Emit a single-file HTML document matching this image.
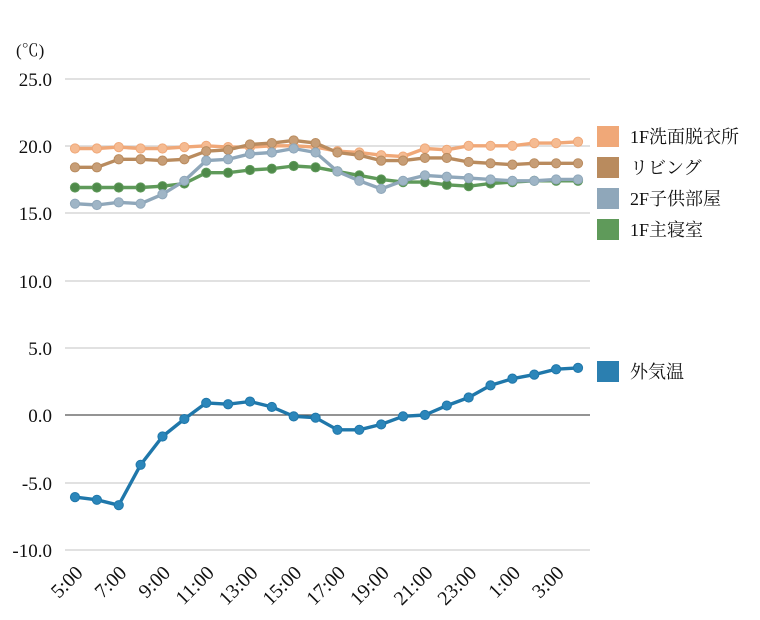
<!DOCTYPE html>
<html><head><meta charset="utf-8"><style>
html,body{margin:0;padding:0;background:#fff;}
svg{display:block;font-family:"Liberation Serif","Noto Serif CJK SC",serif;}
</style></head><body>
<svg id="c" width="760" height="620" viewBox="0 0 760 620" xmlns="http://www.w3.org/2000/svg">
<g stroke="#cfcfcf" stroke-width="1.3">
<line x1="65" x2="590" y1="79" y2="79"/><line x1="65" x2="590" y1="146" y2="146"/>
<line x1="65" x2="590" y1="213" y2="213"/><line x1="65" x2="590" y1="281" y2="281"/>
<line x1="65" x2="590" y1="348" y2="348"/><line x1="65" x2="590" y1="483" y2="483"/>
<line x1="65" x2="590" y1="550" y2="550"/>
</g>
<line x1="65" x2="590" y1="415" y2="415" stroke="#555" stroke-width="1.3"/>
<g font-size="19" fill="#111" text-anchor="end">
<text x="52" y="86">25.0</text><text x="52" y="153">20.0</text><text x="52" y="220">15.0</text>
<text x="52" y="288">10.0</text><text x="52" y="355">5.0</text><text x="52" y="422">0.0</text>
<text x="52" y="490">-5.0</text><text x="52" y="557">-10.0</text>
</g>
<text x="16" y="56" font-size="17" fill="#111">(℃)</text>
<g id="xl" font-size="20" fill="#111" text-anchor="end"></g>
<g id="series"></g>
<g font-size="18" fill="#111">
<rect x="597" y="126" width="22" height="21" fill="#f0a878"/><text x="630" y="143">1F洗面脱衣所</text>
<rect x="597" y="157" width="22" height="21" fill="#b98b5e"/><text x="630" y="174">リビング</text>
<rect x="597" y="188" width="22" height="21" fill="#8fa7ba"/><text x="630" y="205">2F子供部屋</text>
<rect x="597" y="219" width="22" height="21" fill="#5f9a5a"/><text x="630" y="236">1F主寝室</text>
<rect x="597" y="361" width="22" height="21" fill="#2b7fb0"/><text x="630" y="378">外気温</text>
</g>
</svg>
<script>
var ns="http://www.w3.org/2000/svg";
function X(i){return 75+i*21.87;}
function Y(v){return 415-v*13.46;}
var S=[
["#f0a878","#f5bb92",[19.8,19.8,19.9,19.8,19.8,19.9,20.0,19.9,19.9,20.0,20.0,19.9,19.6,19.5,19.3,19.2,19.8,19.7,20.0,20.0,20.0,20.2,20.2,20.3]],
["#b98b5e","#c79e77",[18.4,18.4,19.0,19.0,18.9,19.0,19.6,19.7,20.1,20.2,20.4,20.2,19.5,19.3,18.9,18.9,19.1,19.1,18.8,18.7,18.6,18.7,18.7,18.7]],
["#5f9a5a","#4f8a4a",[16.9,16.9,16.9,16.9,17.0,17.2,18.0,18.0,18.2,18.3,18.5,18.4,18.1,17.8,17.5,17.3,17.3,17.1,17.0,17.2,17.3,17.4,17.4,17.4]],
["#8fa7ba","#9fb5c6",[15.7,15.6,15.8,15.7,16.4,17.4,18.9,19.0,19.4,19.5,19.8,19.5,18.1,17.4,16.8,17.4,17.8,17.7,17.6,17.5,17.4,17.4,17.5,17.5]],
["#1f77aa","#2b86ba",[-6.1,-6.3,-6.7,-3.7,-1.6,-0.3,0.9,0.8,1.0,0.6,-0.1,-0.2,-1.1,-1.1,-0.7,-0.1,0.0,0.7,1.3,2.2,2.7,3.0,3.4,3.5]]
];
var g=document.getElementById("series");
S.forEach(function(s){
 var pts=s[2].map(function(v,i){return X(i).toFixed(1)+","+Y(v).toFixed(1);}).join(" ");
 var p=document.createElementNS(ns,"polyline");
 p.setAttribute("points",pts);p.setAttribute("fill","none");p.setAttribute("stroke",s[0]);
 p.setAttribute("stroke-width","3.4");p.setAttribute("stroke-linejoin","round");g.appendChild(p);
 s[2].forEach(function(v,i){var c=document.createElementNS(ns,"circle");
  c.setAttribute("cx",X(i));c.setAttribute("cy",Y(v));c.setAttribute("r","4.6");
  c.setAttribute("fill",s[1]);c.setAttribute("stroke",s[0]);c.setAttribute("stroke-width","1");g.appendChild(c);});
});
var lab=["5:00","7:00","9:00","11:00","13:00","15:00","17:00","19:00","21:00","23:00","1:00","3:00"];
var xl=document.getElementById("xl");
lab.forEach(function(t,k){var x=X(2*k)+9,y=574;
 var e=document.createElementNS(ns,"text");e.setAttribute("x",x);e.setAttribute("y",y);
 e.setAttribute("transform","rotate(-45 "+x+" "+y+")");e.textContent=t;xl.appendChild(e);});
</script>
</body></html>
